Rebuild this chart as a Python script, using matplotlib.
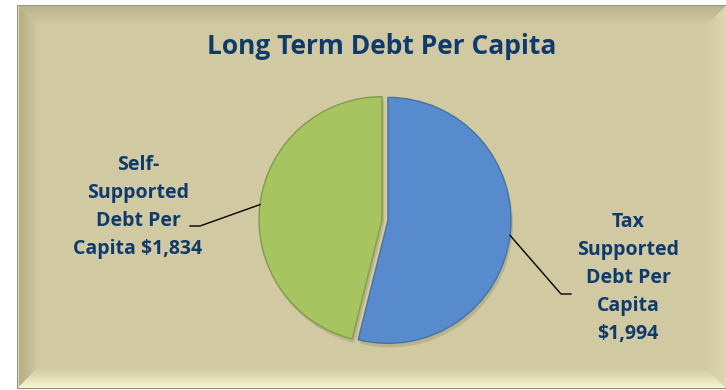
import numpy as np
import matplotlib
matplotlib.use("Agg")
import matplotlib.pyplot as plt

# data: slice shares, amounts as printed in the labels
categories = ["Tax Supported Debt Per Capita", "Self-Supported Debt Per Capita"]
amounts = [1994, 1834]
shares = [53.9, 46.1]
label_heads = ["Tax\nSupported\nDebt Per\nCapita\n", "Self-\nSupported\nDebt Per\nCapita "]
colors = ["#588BCE", "#A6C460"]
edge_colors = ["#46739F", "#829C48"]

W, H = 726, 390
TEXT = "#103A6B"
FONT = "Open Sans"


def Y(y):
    return H - y


fig = plt.figure(figsize=(W / 100, H / 100), dpi=100, facecolor="white")
ax = fig.add_axes([0, 0, 1, 1])

# beige bevelled panel
x0, y0, x1, y1 = 17, 5, 726, 389
img = np.ones((H, W, 3))
base = np.array([208, 201, 162]) / 255
img[y0:y1, x0:x1] = base
bw = 20
for i in range(bw):
    t = i / bw
    left = np.array([178, 170, 128]) / 255 * (1 - t) + base * t
    top = np.array([186, 178, 138]) / 255 * (1 - t) + base * t
    bot = np.array([250, 246, 210]) / 255 * (1 - t) + base * t
    right = np.array([222, 215, 178]) / 255 * (1 - t) + base * t
    img[y0 + i, x0 + i:x1 - i] = top
    img[y1 - 1 - i, x0 + i:x1 - i] = bot
    img[y0 + i + 1:y1 - i - 1, x0 + i] = left
    img[y0 + i + 1:y1 - i - 1, x1 - 1 - i] = right
img[y0:y1, x0] = np.array([140, 140, 132]) / 255
img[y0, x0:x1] = np.array([150, 150, 142]) / 255
img[y1 - 1, x0:x1] = np.array([140, 140, 132]) / 255
img[y0 + 1:y1 - 1, x0 + 1] = np.array([226, 220, 182]) / 255
ax.imshow(img, extent=(0, W, 0, H), origin="upper", zorder=0, interpolation="bilinear")

# pie (pixel units, explode is in the same units)
cx, cy, r = 385, 220, 123
explode = [3.0, 3.0]
ax.pie(shares, startangle=90, counterclock=False, radius=r, center=(cx + 2, Y(cy + 4)),
       explode=explode, colors=["#aaa37f"] * 2,
       wedgeprops=dict(linewidth=0, alpha=0.6), frame=True)
wedges, _ = ax.pie(shares, startangle=90, counterclock=False, radius=r, center=(cx, Y(cy)),
                   explode=explode, colors=colors,
                   wedgeprops=dict(linewidth=1.0), frame=True)
for w, ec in zip(wedges, edge_colors):
    w.set_edgecolor(ec)
    w.set_zorder(3)
ax.set_xlim(0, W)
ax.set_ylim(0, H)
ax.set_aspect("auto")
ax.axis("off")

ax.text(382, Y(46), "Long Term Debt Per Capita", ha="center", va="center",
        fontsize=19, fontweight="bold", color=TEXT, family=FONT, zorder=5)

# data labels with leader lines
label_pos = [(628, 278), (138, 207)]
elbows = [(561, 294, 571), (200, 226, 190)]
for w, head, v, (tx, ty), (ex, ey, hx) in zip(wedges, label_heads, amounts, label_pos, elbows):
    mid = np.deg2rad((w.theta1 + w.theta2) / 2)
    px = w.center[0] + r * np.cos(mid)
    py = w.center[1] + r * np.sin(mid)
    ax.plot([px, ex, hx], [py, Y(ey), Y(ey)], color="black", lw=1.0, zorder=4)
    ax.text(tx, Y(ty), head + f"${v:,}", ha="center", va="center", fontsize=14,
            fontweight="bold", color=TEXT, family=FONT, linespacing=1.52, zorder=5)

fig.savefig("out.png", dpi=100, facecolor="white")
